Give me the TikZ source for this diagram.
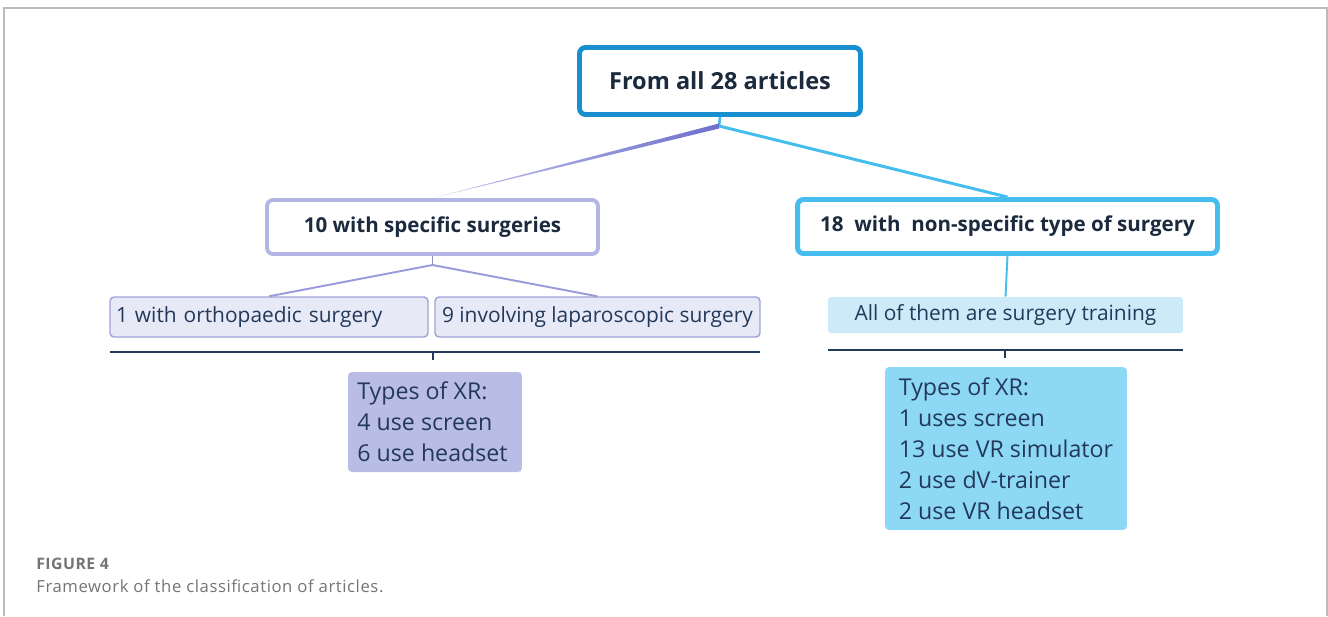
\documentclass[tikz,border=0pt]{standalone}
\usepackage{fontspec}
\setmainfont{Open Sans}
\usetikzlibrary{positioning,calc}
\definecolor{topblue}{HTML}{1A8FD0}
\definecolor{skyblue}{HTML}{45BDEE}
\definecolor{lavline}{HTML}{B3B6E4}
\definecolor{lavedge}{HTML}{9EA2D8}
\definecolor{lavfill}{HTML}{E8E9F6}
\definecolor{lavxr}{HTML}{B9BDE6}
\definecolor{purpline}{HTML}{6E70CC}
\definecolor{paleblue}{HTML}{CDEAF8}
\definecolor{cyanxr}{HTML}{8DD8F5}
\definecolor{navyrule}{HTML}{1F3B57}
\definecolor{textdark}{HTML}{1B2A3D}
\definecolor{textbody}{HTML}{22395A}
\definecolor{framegray}{HTML}{BBBBBB}
\definecolor{capgray}{HTML}{747474}
\begin{document}
\begin{tikzpicture}[x=0.02cm,y=-0.02cm,
  headbox/.style={draw, rounded corners=0.12cm, fill=white, inner sep=0pt, text=textdark, font=\bfseries\fontsize{11.7}{14}\selectfont},
  subbox/.style={draw=lavedge, line width=0.8pt, rounded corners=0.08cm, fill=lavfill, inner sep=0pt, text=textbody, font=\fontsize{11.9}{13}\selectfont},
  xrbox/.style={rounded corners=0.08cm, inner sep=0pt, text=textbody, align=left, font=\fontsize{13.2}{17.6}\selectfont},
  rule/.style={draw=navyrule, line width=1.1pt}]
\useasboundingbox (0,0) rectangle (1328,616);
% frame of the figure
\draw [framegray, line width=0.8pt] (4,616) -- (4,8) -- (1327,8) -- (1327,616);

% top level
\node [headbox, draw=topblue, line width=2.8pt, minimum width=5.62cm, minimum height=1.34cm, font=\bfseries\fontsize{13.4}{15}\selectfont](all) at (720,81) {From all 28 articles};
\coordinate (split) at (719,126);
\node [headbox, draw=lavline, line width=2.2pt, minimum width=6.62cm, minimum height=1.08cm](spec) at (432.5,227) {10 with specific surgeries};
\node [headbox, draw=skyblue, line width=2.8pt, minimum width=8.4cm, minimum height=1.08cm](nonspec) at (1007.5,226.5) {18\ \ with\ \ non-specific type of surgery};
\draw [skyblue, line width=1.5pt] (all.south) -- (split);
\shade [left color=lavline!75, right color=purpline] (spec.north) -- ($(split)+(0,-2.5)$) -- ($(split)+(0,2.5)$) -- cycle;
\draw [skyblue, line width=1.7pt] (split) -- (nonspec.north);

% left branch
\node [subbox, minimum width=6.36cm, minimum height=0.8cm, text width=6.12cm](ortho) at (269,317) {1 with orthopaedic surgery};
\node [subbox, minimum width=6.5cm, minimum height=0.8cm](lapa) at (597.5,317) {9 involving laparoscopic surgery};
\coordinate (specfork) at (432.5,265);
\draw [lavedge!90!black, line width=1.1pt] (spec.south) -- (specfork);
\draw [purpline!70, line width=1.1pt] (specfork) -- (ortho.north);
\draw [purpline!70, line width=1.1pt] (specfork) -- (lapa.north);
\coordinate (lrule a) at (110,352);
\coordinate (lrule b) at (760,352);
\coordinate (ltick) at (433,352);
\draw [rule] (lrule a) -- (lrule b);
\draw [rule, line width=0.8pt] (ltick) -- ++(0,8);
\node [xrbox, fill=lavxr, minimum width=3.48cm, minimum height=2.0cm](lxr) at (435,422) {Types of XR:\\4 use screen\\6 use headset\hspace*{0.1cm}};

% right branch
\node [fill=paleblue, rounded corners=0.06cm, inner sep=0pt, minimum width=7.1cm, minimum height=0.72cm, text=textbody, font=\fontsize{11.9}{13}\selectfont](train) at (1005.5,315) {All of them are surgery training};
\draw [skyblue, line width=1.1pt] (nonspec.south) -- (train.north);
\coordinate (rrule a) at (828,350);
\coordinate (rrule b) at (1183,350);
\coordinate (rtick) at (1005,350);
\draw [rule] (rrule a) -- (rrule b);
\draw [rule, line width=0.8pt] (rtick) -- ++(0,8);
\node [xrbox, fill=cyanxr, minimum width=4.84cm, minimum height=3.26cm](rxr) at (1006,448.5) {Types of XR:\\1 uses screen\\13 use VR simulator\\2 use dV-trainer\\2 use VR headset};

% caption
\node [anchor=base west, inner sep=0pt, text=capgray, font=\bfseries\fontsize{9}{11}\selectfont\addfontfeature{LetterSpace=3}](fignum) at (36,569) {FIGURE 4};
\node [anchor=base west, inner sep=0pt, text=capgray, font=\fontsize{9.5}{12}\selectfont\addfontfeature{LetterSpace=3.5}](caption) at (36,592) {Framework of the classification of articles.};
\end{tikzpicture}
\end{document}
